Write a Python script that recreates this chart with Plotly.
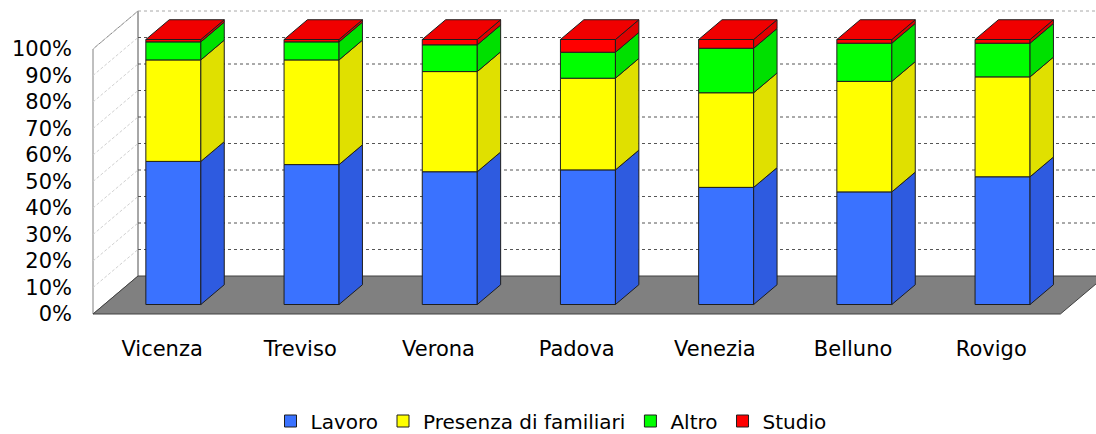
import plotly.graph_objects as go

# ---- data ----
categories = ["Vicenza", "Treviso", "Verona", "Padova", "Venezia", "Belluno", "Rovigo"]
lavoro = [54.0, 52.8, 50.1, 50.8, 44.2, 42.5, 48.2]
presenza = [38.3, 39.5, 37.8, 34.6, 35.7, 41.7, 37.7]
altro = [6.8, 6.8, 10.1, 9.8, 16.8, 14.4, 12.7]
studio = [0.9, 0.9, 2.0, 4.8, 3.3, 1.4, 1.4]
series_names = ["Lavoro", "Presenza di familiari", "Altro", "Studio"]
tick_values = [0, 10, 20, 30, 40, 50, 60, 70, 80, 90, 100]
tick_labels = [f"{v}%" for v in tick_values]

front_colors = ["#3a72ff", "#ffff00", "#00ff00", "#ff0000"]
side_colors = ["#2e5be0", "#e0e000", "#00e000", "#e00000"]
top_color = "#f00000"
edge = "#1e1e1e"

# ---- oblique projection (pixel geometry of the 3D look) ----
W, H = 1096, 434
PX0, SX = 162.1, 138.2     # pixel of category 0 on front plane, px per category
PY0, SY = 314.0, 2.65      # pixel of 0% on front plane, px per percent
DX, DY = 45.0, 38.0        # depth offset in px
L, B = 73, 100
KX, KY = DX / SX, DY / SY

def P(xc, v, d):
    return xc + KX * d, v + KY * d

D_FRONT, D_BACK = 0.25, 0.77
HALF = 0.199
n = len(categories)

series = [lavoro, presenza, altro, studio]

fig = go.Figure()

# front faces as bars
bases = [0.0] * n
all_bases = []
for s, vals in enumerate(series):
    all_bases.append(bases[:])
    fx, _ = P(0, 0, D_FRONT)
    fig.add_trace(go.Bar(
        x=[i + fx for i in range(n)],
        y=vals,
        base=[b + KY * D_FRONT for b in bases],
        width=2 * HALF,
        name=series_names[s],
        marker=dict(color=front_colors[s], line=dict(color=edge, width=1)),
        hoverinfo="skip",
    ))
    bases = [b + v for b, v in zip(bases, vals)]
totals = bases

# side faces
for s, vals in enumerate(series):
    xs, ys = [], []
    for i in range(n):
        v0 = all_bases[s][i]
        v1 = v0 + vals[i]
        pts = [P(i + HALF, v0, D_FRONT), P(i + HALF, v1, D_FRONT),
               P(i + HALF, v1, D_BACK), P(i + HALF, v0, D_BACK), P(i + HALF, v0, D_FRONT)]
        xs += [p[0] for p in pts] + [None]
        ys += [p[1] for p in pts] + [None]
    fig.add_trace(go.Scatter(x=xs, y=ys, mode="lines", fill="toself", fillcolor=side_colors[s],
                             line=dict(color=edge, width=1), showlegend=False, hoverinfo="skip"))

# top faces
xs, ys = [], []
for i in range(n):
    t = totals[i]
    pts = [P(i - HALF, t, D_FRONT), P(i + HALF, t, D_FRONT), P(i + HALF, t, D_BACK),
           P(i - HALF, t, D_BACK), P(i - HALF, t, D_FRONT)]
    xs += [p[0] for p in pts] + [None]
    ys += [p[1] for p in pts] + [None]
fig.add_trace(go.Scatter(x=xs, y=ys, mode="lines", fill="toself", fillcolor=top_color,
                         line=dict(color=edge, width=1), showlegend=False, hoverinfo="skip"))

# ---- walls, grid, floor ----
shapes = []
def path(pts):
    s = "M " + " L ".join(f"{x},{y}" for x, y in pts) + " Z"
    return s

xl, xr = -0.5, n - 0.5
vmax = tick_values[-1]
shapes.append(dict(type="path", path=path([P(xl, 0, 0), P(xl, 0, 1), P(xl, vmax, 1), P(xl, vmax, 0)]),
                   fillcolor="white", line=dict(color="#808080", width=1), layer="below"))
a, b = P(xl, 0, 1), P(xl, vmax, 1)
shapes.append(dict(type="line", x0=a[0], y0=a[1], x1=b[0], y1=b[1], line=dict(color="#909090", width=1), layer="below"))
for v in tick_values[1:]:
    a, b = P(xl, v, 0), P(xl, v, 1)
    shapes.append(dict(type="line", x0=a[0], y0=a[1], x1=b[0], y1=b[1],
                       line=dict(color="#d0d0d0", width=1, dash="3px,2px"), layer="below"))
    a, b = P(xl, v, 1), P(xr + 1, v, 1)
    col = "#a8a8a8" if v == vmax else "#555555"
    shapes.append(dict(type="line", x0=a[0], y0=a[1], x1=b[0], y1=b[1],
                       line=dict(color=col, width=1, dash="3px,3px"), layer="below"))
shapes.append(dict(type="path", path=path([P(xl, 0, 0), P(xr, 0, 0), P(xr, 0, 1), P(xl, 0, 1)]),
                   fillcolor="#808080", line=dict(color="#404040", width=1), layer="below"))

font = dict(family="DejaVu Sans, Verdana, sans-serif", size=21, color="#000000")
legend_font = dict(family="DejaVu Sans, Verdana, sans-serif", size=20, color="#000000")
fig.update_layout(
    width=W, height=H,
    margin=dict(l=L, r=0, t=0, b=B, pad=0, autoexpand=False),
    paper_bgcolor="white", plot_bgcolor="white",
    barmode="overlay",
    shapes=shapes,
    font=font,
    showlegend=True,
    legend=dict(orientation="h", x=(551 - L) / (W - L), xanchor="center",
                y=(434 - B - 421) / (434 - B), yanchor="middle", font=legend_font,
                itemclick=False, itemdoubleclick=False, tracegroupgap=0, borderwidth=0),
    xaxis=dict(range=[(L - PX0) / SX, (W - PX0) / SX], tickvals=list(range(n)), ticktext=categories,
               showgrid=False, zeroline=False, showline=False, ticks="", fixedrange=True, automargin=False),
    yaxis=dict(range=[(PY0 - (H - B)) / SY, PY0 / SY], tickvals=tick_values, ticktext=tick_labels,
               showgrid=False, zeroline=False, showline=False, ticks="", fixedrange=True, automargin=False),
)

fig.write_html(
    "out.html",
    config={"displayModeBar": False, "staticPlot": True},
    post_script="document.body.style.margin='0';document.body.style.overflow='hidden';",
)
